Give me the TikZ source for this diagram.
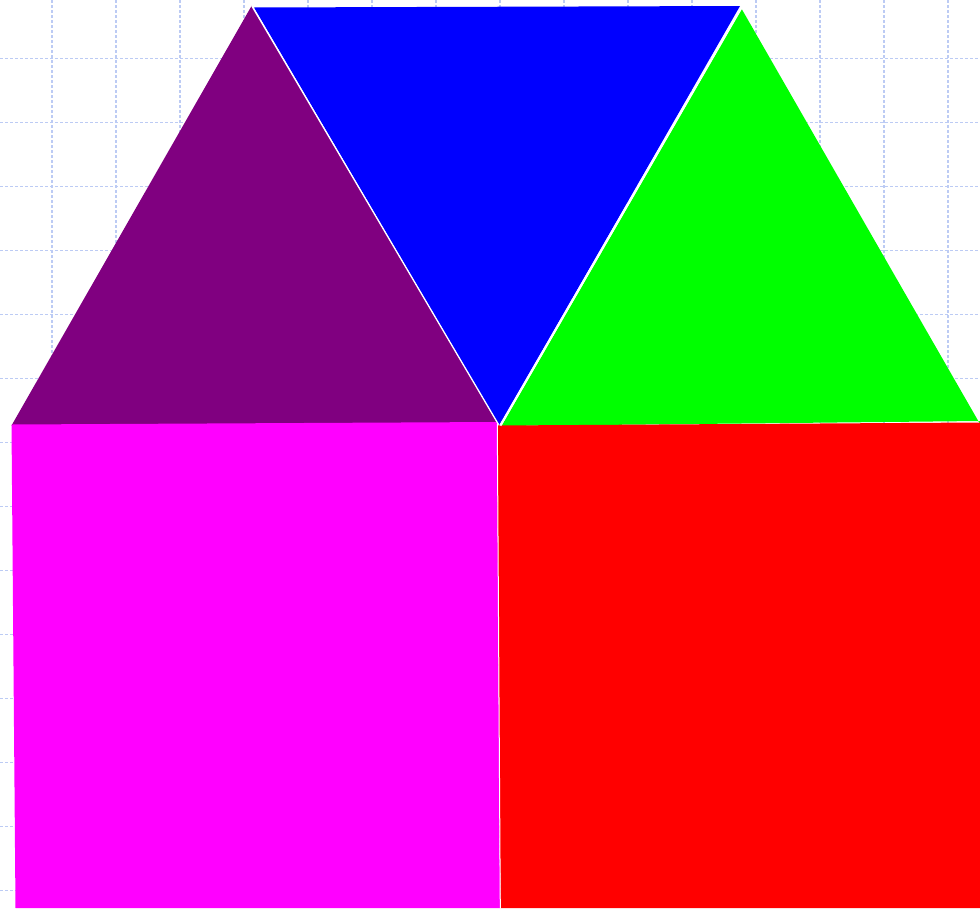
\documentclass[tikz,border=0pt]{standalone}
\usepackage{xcolor}
\definecolor{gridc}{HTML}{BCCBF4}
\definecolor{purp}{HTML}{800080}
\definecolor{blu}{HTML}{0000FF}
\definecolor{grn}{HTML}{00FF00}
\definecolor{mag}{HTML}{FF00FF}
\definecolor{rd}{HTML}{FF0000}
\tikzset{
  gridline/.style={draw=gridc, line width=1.1pt, dash pattern=on 3pt off 2pt},
  seam/.style={draw=white, line cap=butt},
}
\begin{document}
\begin{tikzpicture}[x=1pt,y=-1pt]
\useasboundingbox (0,0) rectangle (980,908);
% grid
\foreach \i in {0,...,14} {
  \draw[gridline] (52+64*\i,0) -- (52+64*\i,908);
}
\foreach \j in {0,...,14} {
  \draw[gridline] (0,58.7+64*\j) -- (980,58.7+64*\j);
}
% shapes
\fill[purp] (251.7,5.7) -- (11.5,425.5) -- (497,422.5) -- cycle;
\fill[blu] (254,7.5) -- (740,6) -- (499.3,425.5) -- cycle;
\fill[grn] (741.7,9) -- (501.5,426) -- (980,421) -- (980,424) -- cycle;
\fill[mag] (11.5,424.5) -- (497,422) -- (500,908) -- (15.5,908) -- cycle;
\fill[rd] (497,425.5) -- (980,422.5) -- (980,908) -- (500.5,908) -- cycle;
% seams
\coordinate (pa) at (251.7,5.7);
\coordinate (pb) at (498.5,424.5);
\coordinate (ga) at (741.5,7.5);
\coordinate (gb) at (500.3,425.5);
\coordinate (ma) at (497.3,424);
\coordinate (mb) at (500.3,908);
\draw[seam, line width=1.3pt] (pa) -- (pb);
\draw[seam, line width=2.2pt] (ga) -- (gb);
\draw[seam, line width=1pt] (ma) -- (mb);
\end{tikzpicture}
\end{document}
